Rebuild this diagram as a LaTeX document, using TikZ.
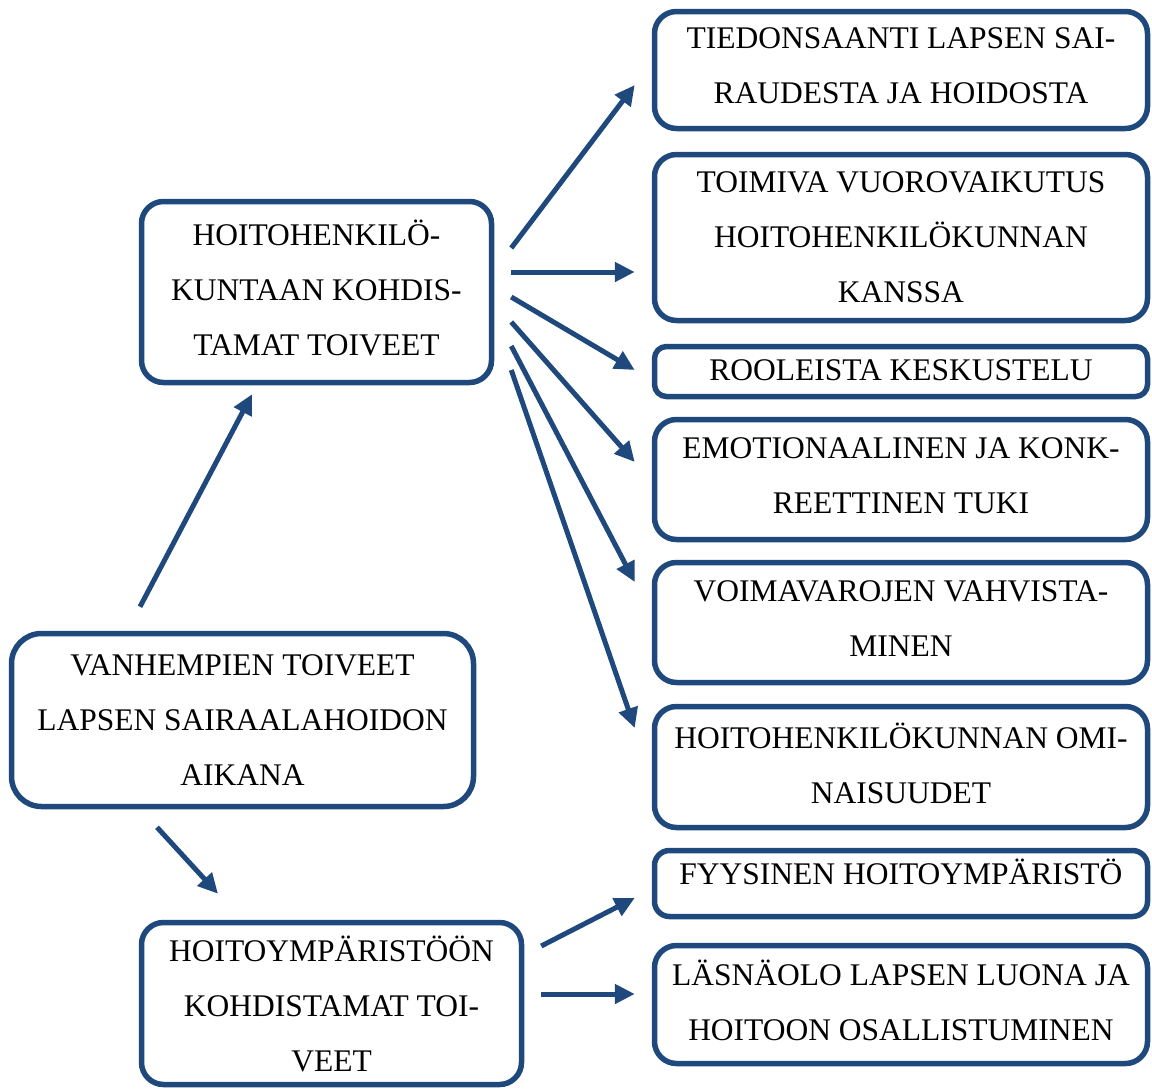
\documentclass[tikz,border=0pt]{standalone}
\usepackage{fontspec}
\setmainfont{Liberation Serif}
\usepackage{xcolor}
\usetikzlibrary{positioning,calc,arrows.meta}

\definecolor{wishblue}{RGB}{31,73,125}

\begin{document}
\begin{tikzpicture}[
    x=1pt, y=-1pt,
    wishbox/.style={rectangle, draw=wishblue, line width=5.5pt, rounded corners=22pt,
        align=center, inner sep=0pt, font=\fontsize{31.5}{55}\selectfont},
    rightbox/.style={wishbox, minimum width=493pt, text depth=8pt},
    ptr/.style={-{Triangle[length=20pt,width=19pt]}, line width=5pt, draw=wishblue}
]
    \useasboundingbox (0,0) rectangle (1152,1088);

    % left column
    \node[wishbox, minimum width=350pt, minimum height=181pt, text depth=9pt] (staff) at (316.5,292)
        {HOITOHENKILÖ-\\KUNTAAN KOHDIS-\\TAMAT TOIVEET};
    \node[wishbox, minimum width=462pt, minimum height=173pt, rounded corners=30pt] (parents) at (242.5,720)
        {VANHEMPIEN TOIVEET\\LAPSEN SAIRAALAHOIDON\\AIKANA};
    \node[wishbox, minimum width=380pt, minimum height=162pt] (environ) at (331.5,1003.5)
        {HOITOYMPÄRISTÖÖN\\KOHDISTAMAT TOI-\\VEET};

    % right column
    \node[rightbox, minimum height=117pt] (info) at (901,70)
        {TIEDONSAANTI LAPSEN SAI-\\RAUDESTA JA HOIDOSTA};
    \node[rightbox, minimum height=166pt, text depth=0pt] (interact) at (901,237.5)
        {TOIMIVA VUOROVAIKUTUS\\HOITOHENKILÖKUNNAN\\KANSSA};
    \node[rightbox, minimum height=50pt, rounded corners=12pt, text depth=2pt] (roles) at (901,371.5)
        {ROOLEISTA KESKUSTELU};
    \node[rightbox, minimum height=120pt] (support) at (901,479.5)
        {EMOTIONAALINEN JA KONK-\\REETTINEN TUKI};
    \node[rightbox, minimum height=120pt] (resources) at (901,622.5)
        {VOIMAVAROJEN VAHVISTA-\\MINEN};
    \node[rightbox, minimum height=121pt] (traits) at (901,767)
        {HOITOHENKILÖKUNNAN OMI-\\NAISUUDET};
    \node[rightbox, minimum height=66pt, rounded corners=15pt, text depth=23pt] (physical) at (901,883.5)
        {FYYSINEN HOITOYMPÄRISTÖ};
    \node[rightbox, minimum height=118pt] (presence) at (901,1004.5)
        {LÄSNÄOLO LAPSEN LUONA JA\\HOITOON OSALLISTUMINEN};

    \draw[ptr] ([shift={(-102.5,-24)}]parents.north) -- ([shift={(-64.5,9)}]staff.south);
    \draw[ptr] ([shift={(-85.5,18)}]parents.south) -- ([shift={(-113.5,-26)}]environ.north);

    \draw[ptr] ([shift={(17,-44)}]staff.east) -- ([shift={(-17,15)}]info.west);
    \draw[ptr] ([shift={(17,-20)}]staff.east) -- ([shift={(-17,34.5)}]interact.west);
    \draw[ptr] ([shift={(17,5)}]staff.east) -- ([shift={(-17,-1.5)}]roles.west);
    \draw[ptr] ([shift={(17,30)}]staff.east) -- ([shift={(-17,-17.5)}]support.west);
    \draw[ptr] ([shift={(17,54)}]staff.east) -- ([shift={(-17,-40.5)}]resources.west);
    \draw[ptr] ([shift={(17,78)}]staff.east) -- ([shift={(-17,-39)}]traits.west);

    \draw[ptr] ([shift={(17,-57.5)}]environ.east) -- ([shift={(-17,14.5)}]physical.west);
    \draw[ptr] ([shift={(17,-9.5)}]environ.east) -- ([shift={(-17,-10.5)}]presence.west);
\end{tikzpicture}
\end{document}
